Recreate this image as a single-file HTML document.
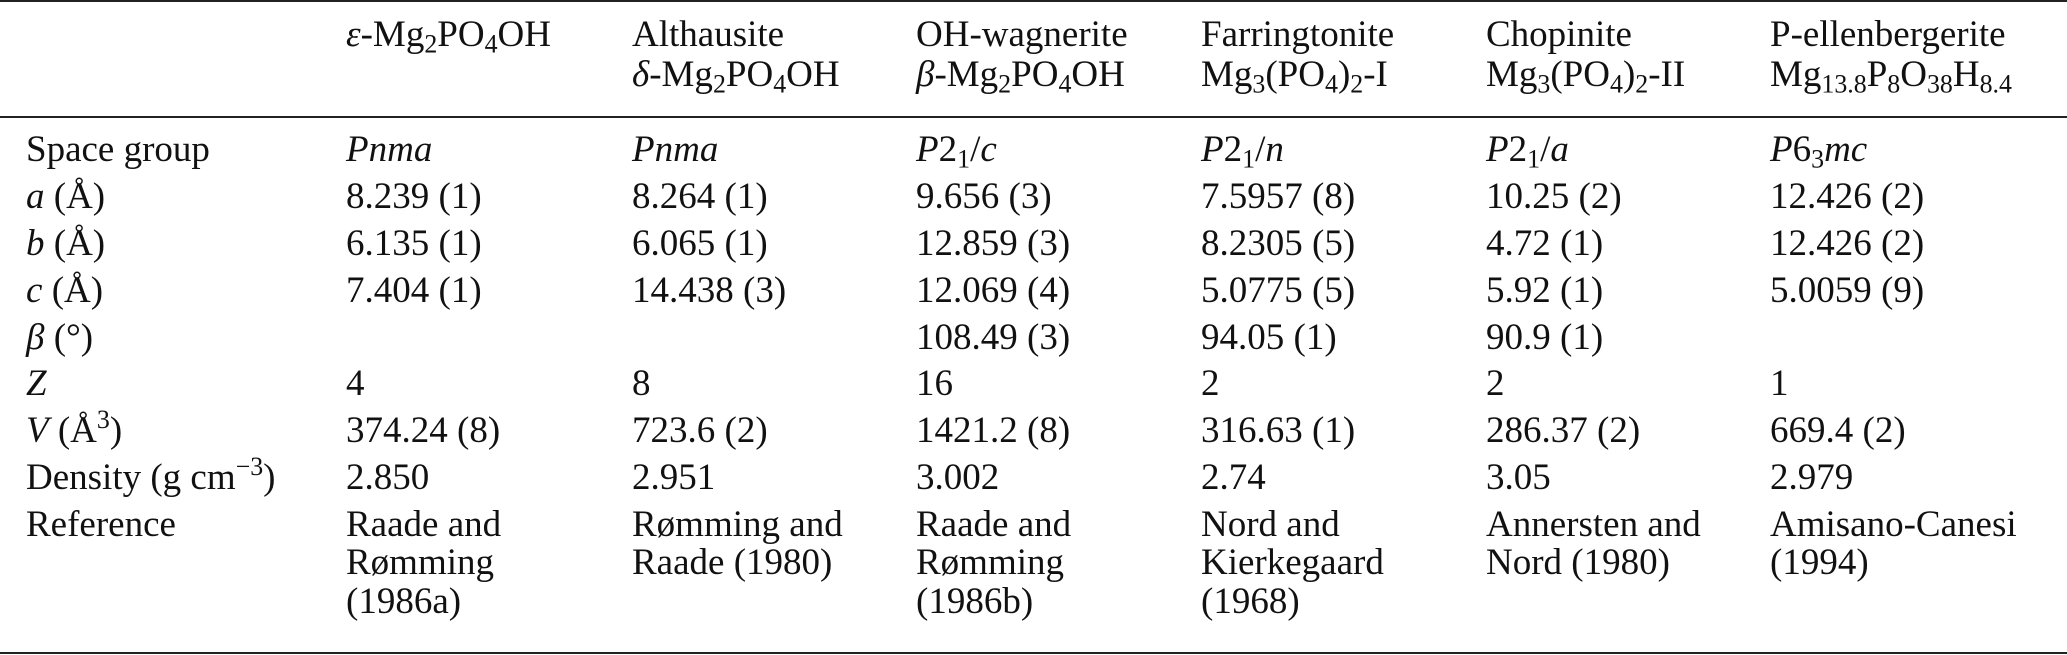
<!DOCTYPE html>
<html><head><meta charset="utf-8"><style>
html,body{margin:0;padding:0;background:#fff;}
body{width:2067px;height:655px;position:relative;overflow:hidden;font-family:"Liberation Serif","DejaVu Serif",serif;font-size:37px;color:#111;}
.t{position:absolute;white-space:nowrap;line-height:46px;height:46px;}
.r{position:absolute;left:0;width:2067px;height:2px;background:#222;}
i{font-style:italic;}
sub,sup{font-size:0.7em;line-height:0;}
sub{vertical-align:-0.25em;}
sup{vertical-align:0.55em;}
</style></head><body>
<div class="r" style="top:0px"></div>
<div class="r" style="top:116px"></div>
<div class="r" style="top:652px"></div>

<div class="t" style="left:346px;top:12px"><i>ε</i>-Mg<sub>2</sub>PO<sub>4</sub>OH</div>
<div class="t" style="left:632px;top:12px">Althausite</div>
<div class="t" style="left:632px;top:52px"><i>δ</i>-Mg<sub>2</sub>PO<sub>4</sub>OH</div>
<div class="t" style="left:916px;top:12px">OH-wagnerite</div>
<div class="t" style="left:916px;top:52px"><i>β</i>-Mg<sub>2</sub>PO<sub>4</sub>OH</div>
<div class="t" style="left:1201px;top:12px">Farringtonite</div>
<div class="t" style="left:1201px;top:52px">Mg<sub>3</sub>(PO<sub>4</sub>)<sub>2</sub>-I</div>
<div class="t" style="left:1486px;top:12px">Chopinite</div>
<div class="t" style="left:1486px;top:52px">Mg<sub>3</sub>(PO<sub>4</sub>)<sub>2</sub>-II</div>
<div class="t" style="left:1770px;top:12px">P-ellenbergerite</div>
<div class="t" style="left:1770px;top:52px">Mg<sub>13.8</sub>P<sub>8</sub>O<sub>38</sub>H<sub>8.4</sub></div>

<div class="t" style="left:26px;top:127px">Space group</div>
<div class="t" style="left:346px;top:127px"><i>Pnma</i></div>
<div class="t" style="left:632px;top:127px"><i>Pnma</i></div>
<div class="t" style="left:916px;top:127px"><i>P</i>2<sub>1</sub>/<i>c</i></div>
<div class="t" style="left:1201px;top:127px"><i>P</i>2<sub>1</sub>/<i>n</i></div>
<div class="t" style="left:1486px;top:127px"><i>P</i>2<sub>1</sub>/<i>a</i></div>
<div class="t" style="left:1770px;top:127px"><i>P</i>6<sub>3</sub><i>mc</i></div>

<div class="t" style="left:26px;top:174px"><i>a</i> (Å)</div>
<div class="t" style="left:346px;top:174px">8.239 (1)</div>
<div class="t" style="left:632px;top:174px">8.264 (1)</div>
<div class="t" style="left:916px;top:174px">9.656 (3)</div>
<div class="t" style="left:1201px;top:174px">7.5957 (8)</div>
<div class="t" style="left:1486px;top:174px">10.25 (2)</div>
<div class="t" style="left:1770px;top:174px">12.426 (2)</div>

<div class="t" style="left:26px;top:221px"><i>b</i> (Å)</div>
<div class="t" style="left:346px;top:221px">6.135 (1)</div>
<div class="t" style="left:632px;top:221px">6.065 (1)</div>
<div class="t" style="left:916px;top:221px">12.859 (3)</div>
<div class="t" style="left:1201px;top:221px">8.2305 (5)</div>
<div class="t" style="left:1486px;top:221px">4.72 (1)</div>
<div class="t" style="left:1770px;top:221px">12.426 (2)</div>

<div class="t" style="left:26px;top:268px"><i>c</i> (Å)</div>
<div class="t" style="left:346px;top:268px">7.404 (1)</div>
<div class="t" style="left:632px;top:268px">14.438 (3)</div>
<div class="t" style="left:916px;top:268px">12.069 (4)</div>
<div class="t" style="left:1201px;top:268px">5.0775 (5)</div>
<div class="t" style="left:1486px;top:268px">5.92 (1)</div>
<div class="t" style="left:1770px;top:268px">5.0059 (9)</div>

<div class="t" style="left:26px;top:315px"><i>β</i> (°)</div>
<div class="t" style="left:916px;top:315px">108.49 (3)</div>
<div class="t" style="left:1201px;top:315px">94.05 (1)</div>
<div class="t" style="left:1486px;top:315px">90.9 (1)</div>

<div class="t" style="left:26px;top:361px"><i>Z</i></div>
<div class="t" style="left:346px;top:361px">4</div>
<div class="t" style="left:632px;top:361px">8</div>
<div class="t" style="left:916px;top:361px">16</div>
<div class="t" style="left:1201px;top:361px">2</div>
<div class="t" style="left:1486px;top:361px">2</div>
<div class="t" style="left:1770px;top:361px">1</div>

<div class="t" style="left:26px;top:408px"><i>V</i> (Å<sup>3</sup>)</div>
<div class="t" style="left:346px;top:408px">374.24 (8)</div>
<div class="t" style="left:632px;top:408px">723.6 (2)</div>
<div class="t" style="left:916px;top:408px">1421.2 (8)</div>
<div class="t" style="left:1201px;top:408px">316.63 (1)</div>
<div class="t" style="left:1486px;top:408px">286.37 (2)</div>
<div class="t" style="left:1770px;top:408px">669.4 (2)</div>

<div class="t" style="left:26px;top:455px">Density (g cm<sup>−3</sup>)</div>
<div class="t" style="left:346px;top:455px">2.850</div>
<div class="t" style="left:632px;top:455px">2.951</div>
<div class="t" style="left:916px;top:455px">3.002</div>
<div class="t" style="left:1201px;top:455px">2.74</div>
<div class="t" style="left:1486px;top:455px">3.05</div>
<div class="t" style="left:1770px;top:455px">2.979</div>

<div class="t" style="left:26px;top:502px">Reference</div>
<div class="t" style="left:346px;top:502px">Raade and</div>
<div class="t" style="left:346px;top:540px">Rømming</div>
<div class="t" style="left:346px;top:579px">(1986a)</div>
<div class="t" style="left:632px;top:502px">Rømming and</div>
<div class="t" style="left:632px;top:540px">Raade (1980)</div>
<div class="t" style="left:916px;top:502px">Raade and</div>
<div class="t" style="left:916px;top:540px">Rømming</div>
<div class="t" style="left:916px;top:579px">(1986b)</div>
<div class="t" style="left:1201px;top:502px">Nord and</div>
<div class="t" style="left:1201px;top:540px">Kierkegaard</div>
<div class="t" style="left:1201px;top:579px">(1968)</div>
<div class="t" style="left:1486px;top:502px">Annersten and</div>
<div class="t" style="left:1486px;top:540px">Nord (1980)</div>
<div class="t" style="left:1770px;top:502px">Amisano-Canesi</div>
<div class="t" style="left:1770px;top:540px">(1994)</div>
</body></html>
